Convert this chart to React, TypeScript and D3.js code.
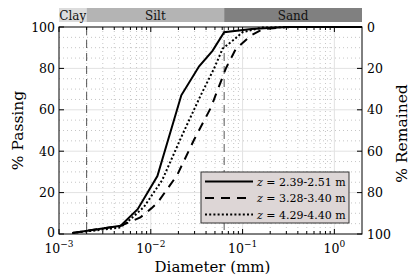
import React from "react";
import * as d3 from "d3";

// grain size classes (mm)
const classNames = ["Clay", "Silt", "Sand"];
const classBounds = [0.001, 0.002, 0.063, 2];
const classColors = ["#dcdcdc", "#b4b4b4", "#808080"];

// z = 2.39-2.51 m
const diamA = [0.0014, 0.0047, 0.0072, 0.0118, 0.0215, 0.0336, 0.047, 0.063, 0.125, 0.3, 2];
const passA = [0.5, 4, 12, 28, 67, 81, 88.5, 97.5, 99, 100, 100];
// z = 3.28-3.40 m
const diamB = [0.0014, 0.0047, 0.0077, 0.0102, 0.0118, 0.0194, 0.0296, 0.0451, 0.0658, 0.0847, 0.124, 0.167, 0.3, 2];
const passB = [0.5, 4, 8, 12.5, 15, 28.5, 45.5, 61, 80, 89.5, 96, 99, 100, 100];
// z = 4.29-4.40 m
const diamC = [0.0014, 0.0045, 0.0053, 0.0084, 0.0133, 0.0221, 0.035, 0.049, 0.0605, 0.081, 0.1, 0.159, 0.4, 2];
const passC = [0.5, 3, 5, 13, 26, 48, 67, 80, 89.5, 94, 97.5, 99.7, 100, 100];

const legendLabels = ["2.39-2.51", "3.28-3.40", "4.29-4.40"];
const yTicks = [0, 20, 40, 60, 80, 100];
const xDecades = [0.001, 0.01, 0.1, 1];
const xExps = ["\u22123", "\u22122", "\u22121", "0"];

const W = 417,
  H = 279;
const margin = { left: 59, right: 55, top: 27, bottom: 45 };
// Liberation Serif falls back to a sans face here, DejaVu Serif is the real serif
const font = "DejaVu Serif";

export default function App() {
  const x = d3
    .scaleLog()
    .domain([0.001, 2])
    .range([margin.left, W - margin.right]);
  const y = d3
    .scaleLinear()
    .domain([0, 100])
    .range([H - margin.bottom, margin.top]);
  const x0 = x.range()[0],
    x1 = x.range()[1],
    y0 = y.range()[0],
    y1 = y.range()[1];

  // minor log ticks 2..9 per decade
  const minorX: number[] = [];
  xDecades.forEach((d) => {
    for (let k = 2; k <= 9; k++) {
      const v = d * k;
      if (v < 2) minorX.push(v);
    }
  });
  const minorY = d3.range(5, 100, 5).filter((v) => v % 20 !== 0);

  const line = d3
    .line<[number, number]>()
    .x((d) => x(d[0]))
    .y((d) => y(d[1]));

  const series = [
    { d: diamA, p: passA, dash: "none" },
    { d: diamB, p: passB, dash: "9,7" },
    { d: diamC, p: passC, dash: "2,2.2" },
  ];

  const lg = { x: 201, y: 172, w: 148, h: 51 };

  return (
    <svg
      width={W}
      height={H}
      fontFamily={font}
      style={{ position: "absolute", left: 0, top: 0, background: "#fff" }}
    >
      {/* class band */}
      {classNames.map((c, i) => (
        <g key={c}>
          <rect
            x={x(classBounds[i])}
            y={8}
            width={x(classBounds[i + 1]) - x(classBounds[i])}
            height={14}
            fill={classColors[i]}
          />
          <text
            x={(x(classBounds[i]) + x(classBounds[i + 1])) / 2}
            y={19.5}
            textAnchor="middle"
            fontSize={12}
            fill="#111"
          >
            {c}
          </text>
        </g>
      ))}

      {/* minor grid */}
      {minorX.map((v) => (
        <line key={"mx" + v} x1={x(v)} x2={x(v)} y1={y1} y2={y0} stroke="#b8b8b8" strokeWidth={0.8} strokeDasharray="1,3" />
      ))}
      {minorY.map((v) => (
        <line key={"my" + v} x1={x0} x2={x1} y1={y(v)} y2={y(v)} stroke="#b8b8b8" strokeWidth={0.8} strokeDasharray="1,3" />
      ))}
      {/* major grid */}
      {xDecades.slice(1).map((v) => (
        <line key={"gx" + v} x1={x(v)} x2={x(v)} y1={y1} y2={y0} stroke="#e2e2e2" strokeWidth={1} />
      ))}
      {yTicks.slice(1, -1).map((v) => (
        <line key={"gy" + v} x1={x0} x2={x1} y1={y(v)} y2={y(v)} stroke="#e2e2e2" strokeWidth={1} />
      ))}

      {/* class boundaries */}
      {classBounds.slice(1, 3).map((v) => (
        <line key={"cb" + v} x1={x(v)} x2={x(v)} y1={y1} y2={y0} stroke="#444" strokeWidth={0.9} strokeDasharray="8,5" />
      ))}

      {/* curves */}
      {series.map((s, i) => (
        <path
          key={i}
          d={line(s.d.map((v, j) => [v, s.p[j]] as [number, number])) || ""}
          fill="none"
          stroke="#000"
          strokeWidth={2}
          strokeDasharray={s.dash}
        />
      ))}

      {/* axes box */}
      <rect x={x0} y={y1} width={x1 - x0} height={y0 - y1} fill="none" stroke="#000" strokeWidth={1} />

      {/* x ticks */}
      {xDecades.map((v) => (
        <g key={"xt" + v}>
          <line x1={x(v)} x2={x(v)} y1={y0} y2={y0 - 5} stroke="#000" />
          <line x1={x(v)} x2={x(v)} y1={y1} y2={y1 + 5} stroke="#000" />
        </g>
      ))}
      {minorX.map((v) => (
        <g key={"xm" + v}>
          <line x1={x(v)} x2={x(v)} y1={y0} y2={y0 - 3} stroke="#000" />
          <line x1={x(v)} x2={x(v)} y1={y1} y2={y1 + 3} stroke="#000" />
        </g>
      ))}
      {xDecades.map((v, i) => (
        <text key={"xl" + v} x={x(v)} y={y0 + 19} textAnchor="middle" fontSize={12.5}>
          10
          <tspan dy={-6} fontSize={9}>
            {xExps[i]}
          </tspan>
        </text>
      ))}

      {/* y ticks */}
      {yTicks.map((v) => (
        <g key={"yt" + v}>
          <line x1={x0} x2={x0 + 5} y1={y(v)} y2={y(v)} stroke="#000" />
          <line x1={x1} x2={x1 - 5} y1={y(v)} y2={y(v)} stroke="#000" />
          <text x={x0 - 4} y={y(v) + (v === 0 ? 3 : 4.5)} textAnchor="end" fontSize={12.5}>
            {v}
          </text>
          <text x={x1 + 5} y={y(v) + 4.5} textAnchor="start" fontSize={12.5}>
            {100 - v}
          </text>
        </g>
      ))}

      {/* axis labels */}
      <text x={(x0 + x1) / 2 + 2} y={H - 7} textAnchor="middle" fontSize={15}>
        Diameter (mm)
      </text>
      <text transform={`translate(23,${(y0 + y1) / 2}) rotate(-90)`} textAnchor="middle" fontSize={15.5}>
        % Passing
      </text>
      <text transform={`translate(407,${(y0 + y1) / 2 + 3}) rotate(-90)`} textAnchor="middle" fontSize={15.5}>
        % Remained
      </text>

      {/* legend */}
      <rect x={lg.x} y={lg.y} width={lg.w} height={lg.h} fill="#ddd6d6" stroke="#333" strokeWidth={1} />
      {series.map((s, i) => {
        const ly = lg.y + 9.5 + i * 16.5;
        return (
          <g key={"lg" + i}>
            <line x1={lg.x + 4} x2={lg.x + 52} y1={ly} y2={ly} stroke="#000" strokeWidth={2} strokeDasharray={s.dash} />
            <text x={lg.x + 56} y={ly + 4} fontSize={11}>
              <tspan fontStyle="italic">z</tspan> = {legendLabels[i]} m
            </text>
          </g>
        );
      })}
    </svg>
  );
}
